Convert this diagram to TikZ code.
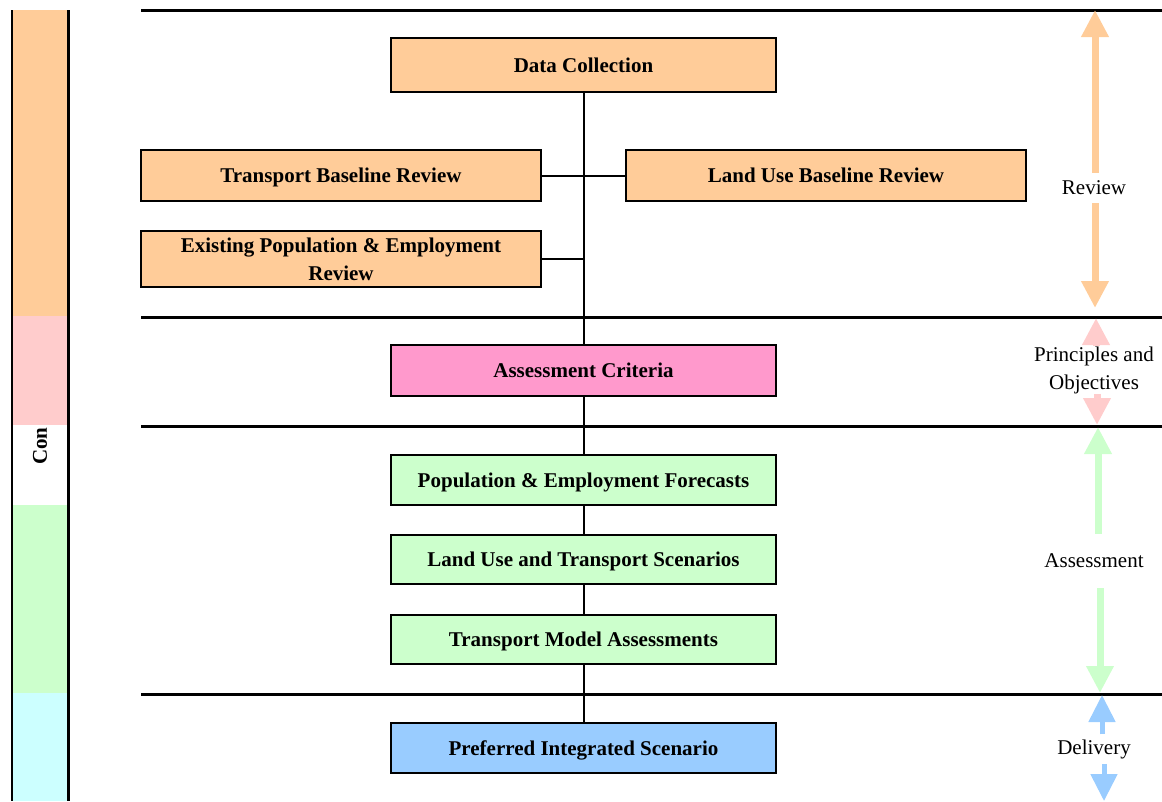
\documentclass[tikz,border=0pt]{standalone}
\usepackage{fontspec}
\setmainfont{Liberation Serif}
\usetikzlibrary{calc}
\usetikzlibrary{arrows.meta}
\definecolor{revcol}{HTML}{FFCC99}
\definecolor{pricol}{HTML}{FFCCCC}
\definecolor{asscol}{HTML}{CCFFCC}
\definecolor{delcol}{HTML}{CCFFFF}
\definecolor{critcol}{HTML}{FF99CC}
\definecolor{prefcol}{HTML}{99CCFF}

\begin{document}
\begin{tikzpicture}[x=1pt, y=-1pt,
 box/.style={draw=black, line width=2.5pt, inner sep=0pt, align=center, font=\fontsize{21}{28}\selectfont\bfseries},
 wide/.style={box, minimum width=385pt, text height=16pt, text depth=2pt},
 side/.style={box, minimum width=400pt},
 phaselabel/.style={inner sep=3pt, align=center, font=\fontsize{21}{28}\selectfont},
 phase/.style={line width=7pt, -{Triangle[width=26pt,length=27pt]}}]
\useasboundingbox (0,0) rectangle (1162,801);
% left bar
\fill[revcol] (12,10) rectangle (68,316);
\fill[pricol] (12,316) rectangle (68,425);
\fill[asscol] (12,505) rectangle (68,693);
\fill[delcol] (12,693) rectangle (68,801);
\draw[black, line width=1.5pt] (12,10)--(12,801);
\draw[black, line width=3pt] (68,10)--(68,801);
\node[rotate=90, font=\fontsize{21}{28}\selectfont\bfseries] (con) at (40,446) {Con};
% separators
\foreach \y in {10,317,426,694} {
 \draw[black, line width=3pt] (141,\y) --++(1021,0);
}
% boxes
\node[wide, fill=revcol, minimum height=54pt] (data) at (583.5,65) {Data Collection};
\node[side, fill=revcol, minimum height=51pt, text height=16pt, text depth=2pt] (tbr) at (341,175.5) {Transport Baseline Review};
\node[side, fill=revcol, minimum height=51pt, text height=16pt, text depth=2pt] (lubr) at (826,175.5) {Land Use Baseline Review};
\node[side, fill=revcol, minimum height=56pt] (epop) at (341,259) {Existing Population \& Employment\\Review};
\node[wide, fill=critcol, minimum height=51pt] (crit) at (583.5,370.5) {Assessment Criteria};
\node[wide, fill=asscol, minimum height=50pt] (popf) at (583.5,480) {Population \& Employment Forecasts};
\node[wide, fill=asscol, minimum height=49pt] (lut) at (583.5,559.5) {Land Use and Transport Scenarios};
\node[wide, fill=asscol, minimum height=49pt] (tma) at (583.5,639.5) {Transport Model Assessments};
\node[wide, fill=prefcol, minimum height=50pt] (pref) at (583.5,748) {Preferred Integrated Scenario};
% links
\draw[black, line width=2pt] (data) -- (crit) -- (popf) -- (lut) -- (tma) -- (pref);
\draw[black, line width=2pt] (tbr) -- (lubr);
\draw[black, line width=2pt] (epop.east) -- (epop.east -| data.south);
% phases
\coordinate (revtop) at (1095,10);
\coordinate (revbot) at (1095,308);
\coordinate (pritop) at (1096,318);
\coordinate (pribot) at (1097,425);
\coordinate (asstop) at (1098,427);
\coordinate (assbot) at (1100,693);
\coordinate (deltop) at (1102,695);
\coordinate (delbot) at (1104,801);
\node[phaselabel, inner ysep=8pt] (rev) at (1094,188) {Review};
\node[phaselabel, inner ysep=0pt] (pri) at (1094,370) {Principles and\\Objectives};
\node[phaselabel, inner ysep=20pt] (ass) at (1094,561) {Assessment};
\node[phaselabel, inner ysep=5pt] (del) at (1094,749) {Delivery};
\draw[phase, revcol] (rev.north -| revtop) -- (revtop);
\draw[phase, revcol] (rev.south -| revbot) -- (revbot);
\draw[phase, pricol] (pri.north -| pritop) -- (pritop);
\draw[phase, pricol] (pri.south -| pribot) -- (pribot);
\draw[phase, asscol] (ass.north -| asstop) -- (asstop);
\draw[phase, asscol] (ass.south -| assbot) -- (assbot);
\draw[phase, prefcol, line width=5pt] (del.north -| deltop) -- (deltop);
\draw[phase, prefcol, line width=5pt] (del.south -| delbot) -- (delbot);
\end{tikzpicture}
\end{document}
